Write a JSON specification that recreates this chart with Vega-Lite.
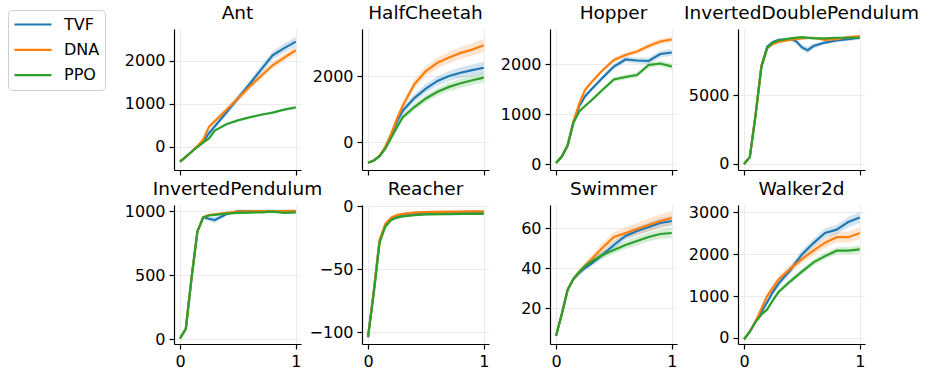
{
"$schema":"https://vega.github.io/schema/vega-lite/v6.json",
"padding":{"left":7,"top":3,"right":0,"bottom":0},
"config":{"view":{"stroke":null},"font":"DejaVu Sans",
"axis":{"gridColor":"#ebebeb","gridWidth":1,"domainColor":"#000","domainWidth":1.2,"tickColor":"#000","tickWidth":1.2,"tickSize":5,"labelColor":"#000","labelFontSize":16,"labelFont":"DejaVu Sans","labelPadding":4,"labelFlush":false,"labelOverlap":false,"grid":true},
"title":{"fontSize":18.5,"font":"DejaVu Sans","fontWeight":"normal","color":"#000","offset":7,"baseline":"alphabetic"}},
"columns":4,
"spacing":{"row":35,"column":61},
"bounds":"flush",
"datasets":{"d":[
{"e":"Ant","a":"TVF","x":0,"y":-340,"l":-351,"h":-329},
{"e":"Ant","a":"TVF","x":0.05,"y":-230,"l":-247,"h":-213},
{"e":"Ant","a":"TVF","x":0.1,"y":-110,"l":-138,"h":-82},
{"e":"Ant","a":"TVF","x":0.15,"y":10,"l":-29,"h":49},
{"e":"Ant","a":"TVF","x":0.2,"y":120,"l":70,"h":170},
{"e":"Ant","a":"TVF","x":0.25,"y":320,"l":259,"h":381},
{"e":"Ant","a":"TVF","x":0.3,"y":480,"l":414,"h":546},
{"e":"Ant","a":"TVF","x":0.4,"y":800,"l":723,"h":877},
{"e":"Ant","a":"TVF","x":0.5,"y":1130,"l":1047,"h":1213},
{"e":"Ant","a":"TVF","x":0.6,"y":1460,"l":1372,"h":1548},
{"e":"Ant","a":"TVF","x":0.7,"y":1800,"l":1706,"h":1894},
{"e":"Ant","a":"TVF","x":0.8,"y":2130,"l":2031,"h":2229},
{"e":"Ant","a":"TVF","x":0.9,"y":2300,"l":2195,"h":2405},
{"e":"Ant","a":"TVF","x":1,"y":2450,"l":2340,"h":2560},
{"e":"Ant","a":"DNA","x":0,"y":-340,"l":-349,"h":-331},
{"e":"Ant","a":"DNA","x":0.05,"y":-230,"l":-244,"h":-216},
{"e":"Ant","a":"DNA","x":0.1,"y":-110,"l":-133,"h":-87},
{"e":"Ant","a":"DNA","x":0.15,"y":20,"l":-12,"h":52},
{"e":"Ant","a":"DNA","x":0.2,"y":170,"l":129,"h":211},
{"e":"Ant","a":"DNA","x":0.25,"y":470,"l":420,"h":520},
{"e":"Ant","a":"DNA","x":0.3,"y":600,"l":546,"h":654},
{"e":"Ant","a":"DNA","x":0.4,"y":860,"l":797,"h":923},
{"e":"Ant","a":"DNA","x":0.5,"y":1130,"l":1062,"h":1198},
{"e":"Ant","a":"DNA","x":0.6,"y":1400,"l":1328,"h":1472},
{"e":"Ant","a":"DNA","x":0.7,"y":1650,"l":1573,"h":1727},
{"e":"Ant","a":"DNA","x":0.8,"y":1900,"l":1819,"h":1981},
{"e":"Ant","a":"DNA","x":0.9,"y":2080,"l":1994,"h":2166},
{"e":"Ant","a":"DNA","x":1,"y":2250,"l":2160,"h":2340},
{"e":"Ant","a":"PPO","x":0,"y":-340,"l":-343,"h":-337},
{"e":"Ant","a":"PPO","x":0.05,"y":-230,"l":-235,"h":-225},
{"e":"Ant","a":"PPO","x":0.1,"y":-110,"l":-118,"h":-102},
{"e":"Ant","a":"PPO","x":0.15,"y":0,"l":-11,"h":11},
{"e":"Ant","a":"PPO","x":0.2,"y":100,"l":86,"h":114},
{"e":"Ant","a":"PPO","x":0.25,"y":200,"l":183,"h":217},
{"e":"Ant","a":"PPO","x":0.3,"y":380,"l":362,"h":398},
{"e":"Ant","a":"PPO","x":0.4,"y":530,"l":509,"h":551},
{"e":"Ant","a":"PPO","x":0.5,"y":620,"l":597,"h":643},
{"e":"Ant","a":"PPO","x":0.6,"y":690,"l":666,"h":714},
{"e":"Ant","a":"PPO","x":0.7,"y":750,"l":724,"h":776},
{"e":"Ant","a":"PPO","x":0.8,"y":800,"l":773,"h":827},
{"e":"Ant","a":"PPO","x":0.9,"y":870,"l":841,"h":899},
{"e":"Ant","a":"PPO","x":1,"y":920,"l":890,"h":950},
{"e":"HalfCheetah","a":"TVF","x":0,"y":-630,"l":-648,"h":-612},
{"e":"HalfCheetah","a":"TVF","x":0.05,"y":-560,"l":-587,"h":-533},
{"e":"HalfCheetah","a":"TVF","x":0.1,"y":-420,"l":-465,"h":-375},
{"e":"HalfCheetah","a":"TVF","x":0.15,"y":-160,"l":-223,"h":-97},
{"e":"HalfCheetah","a":"TVF","x":0.2,"y":220,"l":139,"h":301},
{"e":"HalfCheetah","a":"TVF","x":0.25,"y":620,"l":521,"h":719},
{"e":"HalfCheetah","a":"TVF","x":0.3,"y":950,"l":842,"h":1058},
{"e":"HalfCheetah","a":"TVF","x":0.4,"y":1330,"l":1204,"h":1456},
{"e":"HalfCheetah","a":"TVF","x":0.5,"y":1620,"l":1485,"h":1755},
{"e":"HalfCheetah","a":"TVF","x":0.6,"y":1850,"l":1706,"h":1994},
{"e":"HalfCheetah","a":"TVF","x":0.7,"y":2000,"l":1847,"h":2153},
{"e":"HalfCheetah","a":"TVF","x":0.8,"y":2100,"l":1938,"h":2262},
{"e":"HalfCheetah","a":"TVF","x":0.9,"y":2180,"l":2009,"h":2351},
{"e":"HalfCheetah","a":"TVF","x":1,"y":2250,"l":2070,"h":2430},
{"e":"HalfCheetah","a":"DNA","x":0,"y":-630,"l":-650,"h":-610},
{"e":"HalfCheetah","a":"DNA","x":0.05,"y":-560,"l":-590,"h":-530},
{"e":"HalfCheetah","a":"DNA","x":0.1,"y":-420,"l":-470,"h":-370},
{"e":"HalfCheetah","a":"DNA","x":0.15,"y":-150,"l":-220,"h":-80},
{"e":"HalfCheetah","a":"DNA","x":0.2,"y":250,"l":160,"h":340},
{"e":"HalfCheetah","a":"DNA","x":0.25,"y":700,"l":590,"h":810},
{"e":"HalfCheetah","a":"DNA","x":0.3,"y":1100,"l":980,"h":1220},
{"e":"HalfCheetah","a":"DNA","x":0.4,"y":1750,"l":1610,"h":1890},
{"e":"HalfCheetah","a":"DNA","x":0.5,"y":2150,"l":2000,"h":2300},
{"e":"HalfCheetah","a":"DNA","x":0.6,"y":2400,"l":2240,"h":2560},
{"e":"HalfCheetah","a":"DNA","x":0.7,"y":2560,"l":2390,"h":2730},
{"e":"HalfCheetah","a":"DNA","x":0.8,"y":2700,"l":2520,"h":2880},
{"e":"HalfCheetah","a":"DNA","x":0.9,"y":2800,"l":2610,"h":2990},
{"e":"HalfCheetah","a":"DNA","x":1,"y":2930,"l":2730,"h":3130},
{"e":"HalfCheetah","a":"PPO","x":0,"y":-630,"l":-645,"h":-615},
{"e":"HalfCheetah","a":"PPO","x":0.05,"y":-560,"l":-583,"h":-537},
{"e":"HalfCheetah","a":"PPO","x":0.1,"y":-430,"l":-468,"h":-392},
{"e":"HalfCheetah","a":"PPO","x":0.15,"y":-200,"l":-253,"h":-147},
{"e":"HalfCheetah","a":"PPO","x":0.2,"y":130,"l":62,"h":198},
{"e":"HalfCheetah","a":"PPO","x":0.25,"y":450,"l":367,"h":533},
{"e":"HalfCheetah","a":"PPO","x":0.3,"y":750,"l":660,"h":840},
{"e":"HalfCheetah","a":"PPO","x":0.4,"y":1060,"l":955,"h":1165},
{"e":"HalfCheetah","a":"PPO","x":0.5,"y":1320,"l":1207,"h":1433},
{"e":"HalfCheetah","a":"PPO","x":0.6,"y":1520,"l":1400,"h":1640},
{"e":"HalfCheetah","a":"PPO","x":0.7,"y":1670,"l":1542,"h":1798},
{"e":"HalfCheetah","a":"PPO","x":0.8,"y":1780,"l":1645,"h":1915},
{"e":"HalfCheetah","a":"PPO","x":0.9,"y":1870,"l":1727,"h":2013},
{"e":"HalfCheetah","a":"PPO","x":1,"y":1950,"l":1800,"h":2100},
{"e":"Hopper","a":"TVF","x":0,"y":20,"l":13,"h":27},
{"e":"Hopper","a":"TVF","x":0.05,"y":150,"l":139,"h":161},
{"e":"Hopper","a":"TVF","x":0.1,"y":370,"l":352,"h":388},
{"e":"Hopper","a":"TVF","x":0.15,"y":830,"l":805,"h":855},
{"e":"Hopper","a":"TVF","x":0.2,"y":1150,"l":1118,"h":1182},
{"e":"Hopper","a":"TVF","x":0.25,"y":1350,"l":1311,"h":1389},
{"e":"Hopper","a":"TVF","x":0.3,"y":1480,"l":1438,"h":1522},
{"e":"Hopper","a":"TVF","x":0.4,"y":1720,"l":1671,"h":1769},
{"e":"Hopper","a":"TVF","x":0.5,"y":1950,"l":1897,"h":2003},
{"e":"Hopper","a":"TVF","x":0.6,"y":2090,"l":2034,"h":2146},
{"e":"Hopper","a":"TVF","x":0.7,"y":2070,"l":2010,"h":2130},
{"e":"Hopper","a":"TVF","x":0.8,"y":2060,"l":1997,"h":2123},
{"e":"Hopper","a":"TVF","x":0.9,"y":2200,"l":2133,"h":2267},
{"e":"Hopper","a":"TVF","x":1,"y":2230,"l":2160,"h":2300},
{"e":"Hopper","a":"DNA","x":0,"y":20,"l":14,"h":26},
{"e":"Hopper","a":"DNA","x":0.05,"y":150,"l":141,"h":159},
{"e":"Hopper","a":"DNA","x":0.1,"y":380,"l":365,"h":395},
{"e":"Hopper","a":"DNA","x":0.15,"y":850,"l":829,"h":871},
{"e":"Hopper","a":"DNA","x":0.2,"y":1200,"l":1173,"h":1227},
{"e":"Hopper","a":"DNA","x":0.25,"y":1480,"l":1447,"h":1513},
{"e":"Hopper","a":"DNA","x":0.3,"y":1620,"l":1584,"h":1656},
{"e":"Hopper","a":"DNA","x":0.4,"y":1870,"l":1828,"h":1912},
{"e":"Hopper","a":"DNA","x":0.5,"y":2080,"l":2035,"h":2125},
{"e":"Hopper","a":"DNA","x":0.6,"y":2180,"l":2132,"h":2228},
{"e":"Hopper","a":"DNA","x":0.7,"y":2250,"l":2199,"h":2301},
{"e":"Hopper","a":"DNA","x":0.8,"y":2360,"l":2306,"h":2414},
{"e":"Hopper","a":"DNA","x":0.9,"y":2450,"l":2393,"h":2507},
{"e":"Hopper","a":"DNA","x":1,"y":2490,"l":2430,"h":2550},
{"e":"Hopper","a":"PPO","x":0,"y":20,"l":14,"h":26},
{"e":"Hopper","a":"PPO","x":0.05,"y":150,"l":141,"h":159},
{"e":"Hopper","a":"PPO","x":0.1,"y":370,"l":355,"h":385},
{"e":"Hopper","a":"PPO","x":0.15,"y":820,"l":799,"h":841},
{"e":"Hopper","a":"PPO","x":0.2,"y":1050,"l":1023,"h":1077},
{"e":"Hopper","a":"PPO","x":0.25,"y":1160,"l":1127,"h":1193},
{"e":"Hopper","a":"PPO","x":0.3,"y":1260,"l":1224,"h":1296},
{"e":"Hopper","a":"PPO","x":0.4,"y":1480,"l":1438,"h":1522},
{"e":"Hopper","a":"PPO","x":0.5,"y":1690,"l":1645,"h":1735},
{"e":"Hopper","a":"PPO","x":0.6,"y":1740,"l":1692,"h":1788},
{"e":"Hopper","a":"PPO","x":0.7,"y":1780,"l":1729,"h":1831},
{"e":"Hopper","a":"PPO","x":0.8,"y":1980,"l":1926,"h":2034},
{"e":"Hopper","a":"PPO","x":0.9,"y":2010,"l":1953,"h":2067},
{"e":"Hopper","a":"PPO","x":1,"y":1950,"l":1890,"h":2010},
{"e":"InvertedDoublePendulum","a":"TVF","x":0,"y":0,"l":-15,"h":15},
{"e":"InvertedDoublePendulum","a":"TVF","x":0.05,"y":500,"l":477,"h":523},
{"e":"InvertedDoublePendulum","a":"TVF","x":0.1,"y":3600,"l":3562,"h":3638},
{"e":"InvertedDoublePendulum","a":"TVF","x":0.15,"y":7100,"l":7047,"h":7153},
{"e":"InvertedDoublePendulum","a":"TVF","x":0.2,"y":8500,"l":8432,"h":8568},
{"e":"InvertedDoublePendulum","a":"TVF","x":0.25,"y":8850,"l":8767,"h":8933},
{"e":"InvertedDoublePendulum","a":"TVF","x":0.3,"y":9000,"l":8910,"h":9090},
{"e":"InvertedDoublePendulum","a":"TVF","x":0.4,"y":9050,"l":8945,"h":9155},
{"e":"InvertedDoublePendulum","a":"TVF","x":0.45,"y":8900,"l":8750,"h":9050},
{"e":"InvertedDoublePendulum","a":"TVF","x":0.5,"y":8450,"l":8250,"h":8650},
{"e":"InvertedDoublePendulum","a":"TVF","x":0.55,"y":8250,"l":8000,"h":8500},
{"e":"InvertedDoublePendulum","a":"TVF","x":0.6,"y":8550,"l":8350,"h":8750},
{"e":"InvertedDoublePendulum","a":"TVF","x":0.7,"y":8800,"l":8672,"h":8928},
{"e":"InvertedDoublePendulum","a":"TVF","x":0.8,"y":8950,"l":8815,"h":9085},
{"e":"InvertedDoublePendulum","a":"TVF","x":0.9,"y":9050,"l":8907,"h":9193},
{"e":"InvertedDoublePendulum","a":"TVF","x":1,"y":9150,"l":9000,"h":9300},
{"e":"InvertedDoublePendulum","a":"DNA","x":0,"y":0,"l":-10,"h":10},
{"e":"InvertedDoublePendulum","a":"DNA","x":0.05,"y":500,"l":485,"h":515},
{"e":"InvertedDoublePendulum","a":"DNA","x":0.1,"y":3600,"l":3575,"h":3625},
{"e":"InvertedDoublePendulum","a":"DNA","x":0.15,"y":7100,"l":7065,"h":7135},
{"e":"InvertedDoublePendulum","a":"DNA","x":0.2,"y":8400,"l":8355,"h":8445},
{"e":"InvertedDoublePendulum","a":"DNA","x":0.25,"y":8700,"l":8645,"h":8755},
{"e":"InvertedDoublePendulum","a":"DNA","x":0.3,"y":8850,"l":8790,"h":8910},
{"e":"InvertedDoublePendulum","a":"DNA","x":0.4,"y":9000,"l":8930,"h":9070},
{"e":"InvertedDoublePendulum","a":"DNA","x":0.5,"y":9100,"l":9025,"h":9175},
{"e":"InvertedDoublePendulum","a":"DNA","x":0.6,"y":9150,"l":9070,"h":9230},
{"e":"InvertedDoublePendulum","a":"DNA","x":0.7,"y":9000,"l":8915,"h":9085},
{"e":"InvertedDoublePendulum","a":"DNA","x":0.8,"y":9050,"l":8960,"h":9140},
{"e":"InvertedDoublePendulum","a":"DNA","x":0.9,"y":9200,"l":9105,"h":9295},
{"e":"InvertedDoublePendulum","a":"DNA","x":1,"y":9250,"l":9150,"h":9350},
{"e":"InvertedDoublePendulum","a":"PPO","x":0,"y":0,"l":-6,"h":6},
{"e":"InvertedDoublePendulum","a":"PPO","x":0.05,"y":500,"l":491,"h":509},
{"e":"InvertedDoublePendulum","a":"PPO","x":0.1,"y":3500,"l":3485,"h":3515},
{"e":"InvertedDoublePendulum","a":"PPO","x":0.15,"y":7000,"l":6979,"h":7021},
{"e":"InvertedDoublePendulum","a":"PPO","x":0.2,"y":8400,"l":8373,"h":8427},
{"e":"InvertedDoublePendulum","a":"PPO","x":0.25,"y":8800,"l":8767,"h":8833},
{"e":"InvertedDoublePendulum","a":"PPO","x":0.3,"y":8950,"l":8914,"h":8986},
{"e":"InvertedDoublePendulum","a":"PPO","x":0.4,"y":9100,"l":9058,"h":9142},
{"e":"InvertedDoublePendulum","a":"PPO","x":0.5,"y":9200,"l":9155,"h":9245},
{"e":"InvertedDoublePendulum","a":"PPO","x":0.6,"y":9100,"l":9052,"h":9148},
{"e":"InvertedDoublePendulum","a":"PPO","x":0.7,"y":9100,"l":9049,"h":9151},
{"e":"InvertedDoublePendulum","a":"PPO","x":0.8,"y":9150,"l":9096,"h":9204},
{"e":"InvertedDoublePendulum","a":"PPO","x":0.9,"y":9150,"l":9093,"h":9207},
{"e":"InvertedDoublePendulum","a":"PPO","x":1,"y":9150,"l":9090,"h":9210},
{"e":"InvertedPendulum","a":"TVF","x":0,"y":5,"l":3,"h":7},
{"e":"InvertedPendulum","a":"TVF","x":0.05,"y":80,"l":78,"h":82},
{"e":"InvertedPendulum","a":"TVF","x":0.1,"y":480,"l":476,"h":484},
{"e":"InvertedPendulum","a":"TVF","x":0.15,"y":840,"l":835,"h":845},
{"e":"InvertedPendulum","a":"TVF","x":0.2,"y":950,"l":943,"h":957},
{"e":"InvertedPendulum","a":"TVF","x":0.25,"y":940,"l":920,"h":960},
{"e":"InvertedPendulum","a":"TVF","x":0.3,"y":930,"l":905,"h":955},
{"e":"InvertedPendulum","a":"TVF","x":0.4,"y":975,"l":965,"h":985},
{"e":"InvertedPendulum","a":"TVF","x":0.5,"y":1000,"l":989,"h":1011},
{"e":"InvertedPendulum","a":"TVF","x":0.6,"y":1000,"l":988,"h":1012},
{"e":"InvertedPendulum","a":"TVF","x":0.7,"y":1000,"l":987,"h":1013},
{"e":"InvertedPendulum","a":"TVF","x":0.8,"y":1000,"l":986,"h":1014},
{"e":"InvertedPendulum","a":"TVF","x":0.9,"y":1000,"l":986,"h":1014},
{"e":"InvertedPendulum","a":"TVF","x":1,"y":1000,"l":985,"h":1015},
{"e":"InvertedPendulum","a":"DNA","x":0,"y":5,"l":4,"h":6},
{"e":"InvertedPendulum","a":"DNA","x":0.05,"y":80,"l":79,"h":81},
{"e":"InvertedPendulum","a":"DNA","x":0.1,"y":480,"l":478,"h":482},
{"e":"InvertedPendulum","a":"DNA","x":0.15,"y":840,"l":837,"h":843},
{"e":"InvertedPendulum","a":"DNA","x":0.2,"y":950,"l":946,"h":954},
{"e":"InvertedPendulum","a":"DNA","x":0.25,"y":970,"l":966,"h":974},
{"e":"InvertedPendulum","a":"DNA","x":0.3,"y":975,"l":970,"h":980},
{"e":"InvertedPendulum","a":"DNA","x":0.4,"y":985,"l":979,"h":991},
{"e":"InvertedPendulum","a":"DNA","x":0.5,"y":995,"l":989,"h":1001},
{"e":"InvertedPendulum","a":"DNA","x":0.6,"y":998,"l":992,"h":1004},
{"e":"InvertedPendulum","a":"DNA","x":0.7,"y":1000,"l":993,"h":1007},
{"e":"InvertedPendulum","a":"DNA","x":0.8,"y":1000,"l":993,"h":1007},
{"e":"InvertedPendulum","a":"DNA","x":0.9,"y":1000,"l":992,"h":1008},
{"e":"InvertedPendulum","a":"DNA","x":1,"y":1000,"l":992,"h":1008},
{"e":"InvertedPendulum","a":"PPO","x":0,"y":5,"l":4,"h":6},
{"e":"InvertedPendulum","a":"PPO","x":0.05,"y":80,"l":79,"h":81},
{"e":"InvertedPendulum","a":"PPO","x":0.1,"y":480,"l":478,"h":482},
{"e":"InvertedPendulum","a":"PPO","x":0.15,"y":840,"l":837,"h":843},
{"e":"InvertedPendulum","a":"PPO","x":0.2,"y":950,"l":946,"h":954},
{"e":"InvertedPendulum","a":"PPO","x":0.25,"y":965,"l":961,"h":969},
{"e":"InvertedPendulum","a":"PPO","x":0.3,"y":970,"l":965,"h":975},
{"e":"InvertedPendulum","a":"PPO","x":0.4,"y":980,"l":974,"h":986},
{"e":"InvertedPendulum","a":"PPO","x":0.5,"y":985,"l":979,"h":991},
{"e":"InvertedPendulum","a":"PPO","x":0.6,"y":988,"l":982,"h":994},
{"e":"InvertedPendulum","a":"PPO","x":0.7,"y":990,"l":983,"h":997},
{"e":"InvertedPendulum","a":"PPO","x":0.8,"y":995,"l":988,"h":1002},
{"e":"InvertedPendulum","a":"PPO","x":0.9,"y":985,"l":977,"h":993},
{"e":"InvertedPendulum","a":"PPO","x":1,"y":990,"l":982,"h":998},
{"e":"Reacher","a":"TVF","x":0,"y":-104,"l":-105,"h":-103},
{"e":"Reacher","a":"TVF","x":0.05,"y":-67,"l":-68,"h":-66},
{"e":"Reacher","a":"TVF","x":0.1,"y":-27,"l":-28,"h":-26},
{"e":"Reacher","a":"TVF","x":0.15,"y":-15,"l":-16,"h":-14},
{"e":"Reacher","a":"TVF","x":0.2,"y":-10,"l":-11,"h":-9},
{"e":"Reacher","a":"TVF","x":0.25,"y":-7.5,"l":-8.5,"h":-6.5},
{"e":"Reacher","a":"TVF","x":0.3,"y":-6.5,"l":-7.5,"h":-5.5},
{"e":"Reacher","a":"TVF","x":0.4,"y":-5.5,"l":-6.5,"h":-4.5},
{"e":"Reacher","a":"TVF","x":0.5,"y":-5,"l":-6,"h":-4},
{"e":"Reacher","a":"TVF","x":0.6,"y":-4.8,"l":-5.8,"h":-3.8},
{"e":"Reacher","a":"TVF","x":0.7,"y":-4.7,"l":-5.7,"h":-3.7},
{"e":"Reacher","a":"TVF","x":0.8,"y":-4.6,"l":-5.6,"h":-3.6},
{"e":"Reacher","a":"TVF","x":0.9,"y":-4.5,"l":-5.5,"h":-3.5},
{"e":"Reacher","a":"TVF","x":1,"y":-4.5,"l":-5.5,"h":-3.5},
{"e":"Reacher","a":"DNA","x":0,"y":-104,"l":-105,"h":-103},
{"e":"Reacher","a":"DNA","x":0.05,"y":-67,"l":-68,"h":-66},
{"e":"Reacher","a":"DNA","x":0.1,"y":-27,"l":-28,"h":-26},
{"e":"Reacher","a":"DNA","x":0.15,"y":-14,"l":-15,"h":-13},
{"e":"Reacher","a":"DNA","x":0.2,"y":-9,"l":-10,"h":-8},
{"e":"Reacher","a":"DNA","x":0.25,"y":-7,"l":-8,"h":-6},
{"e":"Reacher","a":"DNA","x":0.3,"y":-6,"l":-7,"h":-5},
{"e":"Reacher","a":"DNA","x":0.4,"y":-5,"l":-6,"h":-4},
{"e":"Reacher","a":"DNA","x":0.5,"y":-4.6,"l":-5.6,"h":-3.6},
{"e":"Reacher","a":"DNA","x":0.6,"y":-4.4,"l":-5.4,"h":-3.4},
{"e":"Reacher","a":"DNA","x":0.7,"y":-4.3,"l":-5.3,"h":-3.3},
{"e":"Reacher","a":"DNA","x":0.8,"y":-4.2,"l":-5.2,"h":-3.2},
{"e":"Reacher","a":"DNA","x":0.9,"y":-4.1,"l":-5.1,"h":-3.1},
{"e":"Reacher","a":"DNA","x":1,"y":-4,"l":-5,"h":-3},
{"e":"Reacher","a":"PPO","x":0,"y":-104,"l":-105,"h":-103},
{"e":"Reacher","a":"PPO","x":0.05,"y":-69,"l":-70,"h":-68},
{"e":"Reacher","a":"PPO","x":0.1,"y":-29,"l":-30,"h":-28},
{"e":"Reacher","a":"PPO","x":0.15,"y":-16,"l":-17,"h":-15},
{"e":"Reacher","a":"PPO","x":0.2,"y":-11,"l":-12,"h":-10},
{"e":"Reacher","a":"PPO","x":0.25,"y":-9,"l":-10,"h":-8},
{"e":"Reacher","a":"PPO","x":0.3,"y":-8,"l":-9,"h":-7},
{"e":"Reacher","a":"PPO","x":0.4,"y":-7,"l":-8,"h":-6},
{"e":"Reacher","a":"PPO","x":0.5,"y":-6.5,"l":-7.5,"h":-5.5},
{"e":"Reacher","a":"PPO","x":0.6,"y":-6.3,"l":-7.3,"h":-5.3},
{"e":"Reacher","a":"PPO","x":0.7,"y":-6.2,"l":-7.2,"h":-5.2},
{"e":"Reacher","a":"PPO","x":0.8,"y":-6.1,"l":-7.1,"h":-5.1},
{"e":"Reacher","a":"PPO","x":0.9,"y":-6,"l":-7,"h":-5},
{"e":"Reacher","a":"PPO","x":1,"y":-6,"l":-7,"h":-5},
{"e":"Swimmer","a":"TVF","x":0,"y":6,"l":5.7,"h":6.3},
{"e":"Swimmer","a":"TVF","x":0.05,"y":17,"l":16.6,"h":17.4},
{"e":"Swimmer","a":"TVF","x":0.1,"y":29,"l":28.4,"h":29.6},
{"e":"Swimmer","a":"TVF","x":0.15,"y":34.5,"l":33.6,"h":35.4},
{"e":"Swimmer","a":"TVF","x":0.2,"y":37.5,"l":36.4,"h":38.6},
{"e":"Swimmer","a":"TVF","x":0.25,"y":40,"l":38.6,"h":41.4},
{"e":"Swimmer","a":"TVF","x":0.3,"y":42,"l":40.5,"h":43.5},
{"e":"Swimmer","a":"TVF","x":0.4,"y":46.5,"l":44.7,"h":48.3},
{"e":"Swimmer","a":"TVF","x":0.5,"y":51.5,"l":49.6,"h":53.4},
{"e":"Swimmer","a":"TVF","x":0.6,"y":56,"l":54,"h":58},
{"e":"Swimmer","a":"TVF","x":0.7,"y":58.5,"l":56.4,"h":60.6},
{"e":"Swimmer","a":"TVF","x":0.8,"y":60.5,"l":58.2,"h":62.8},
{"e":"Swimmer","a":"TVF","x":0.9,"y":62.5,"l":60.1,"h":64.9},
{"e":"Swimmer","a":"TVF","x":1,"y":63.5,"l":61,"h":66},
{"e":"Swimmer","a":"DNA","x":0,"y":6,"l":5.6,"h":6.4},
{"e":"Swimmer","a":"DNA","x":0.05,"y":17,"l":16.5,"h":17.5},
{"e":"Swimmer","a":"DNA","x":0.1,"y":29,"l":28.1,"h":29.9},
{"e":"Swimmer","a":"DNA","x":0.15,"y":34.5,"l":33.3,"h":35.7},
{"e":"Swimmer","a":"DNA","x":0.2,"y":38,"l":36.4,"h":39.6},
{"e":"Swimmer","a":"DNA","x":0.25,"y":41,"l":39.1,"h":42.9},
{"e":"Swimmer","a":"DNA","x":0.3,"y":44,"l":41.9,"h":46.1},
{"e":"Swimmer","a":"DNA","x":0.4,"y":50,"l":47.5,"h":52.5},
{"e":"Swimmer","a":"DNA","x":0.5,"y":55.5,"l":52.9,"h":58.1},
{"e":"Swimmer","a":"DNA","x":0.6,"y":57.5,"l":54.7,"h":60.3},
{"e":"Swimmer","a":"DNA","x":0.7,"y":59.5,"l":56.5,"h":62.5},
{"e":"Swimmer","a":"DNA","x":0.8,"y":61.5,"l":58.3,"h":64.7},
{"e":"Swimmer","a":"DNA","x":0.9,"y":63.5,"l":60.2,"h":66.8},
{"e":"Swimmer","a":"DNA","x":1,"y":65,"l":61.5,"h":68.5},
{"e":"Swimmer","a":"PPO","x":0,"y":6,"l":5.7,"h":6.3},
{"e":"Swimmer","a":"PPO","x":0.05,"y":17,"l":16.6,"h":17.4},
{"e":"Swimmer","a":"PPO","x":0.1,"y":29,"l":28.4,"h":29.6},
{"e":"Swimmer","a":"PPO","x":0.15,"y":34.5,"l":33.6,"h":35.4},
{"e":"Swimmer","a":"PPO","x":0.2,"y":38,"l":36.9,"h":39.1},
{"e":"Swimmer","a":"PPO","x":0.25,"y":41,"l":39.6,"h":42.4},
{"e":"Swimmer","a":"PPO","x":0.3,"y":43,"l":41.5,"h":44.5},
{"e":"Swimmer","a":"PPO","x":0.4,"y":46.5,"l":44.7,"h":48.3},
{"e":"Swimmer","a":"PPO","x":0.5,"y":49,"l":47.1,"h":50.9},
{"e":"Swimmer","a":"PPO","x":0.6,"y":51.5,"l":49.5,"h":53.5},
{"e":"Swimmer","a":"PPO","x":0.7,"y":53.5,"l":51.4,"h":55.6},
{"e":"Swimmer","a":"PPO","x":0.8,"y":55.5,"l":53.2,"h":57.8},
{"e":"Swimmer","a":"PPO","x":0.9,"y":57,"l":54.6,"h":59.4},
{"e":"Swimmer","a":"PPO","x":1,"y":57.5,"l":55,"h":60},
{"e":"Walker2d","a":"TVF","x":0,"y":-30,"l":-43,"h":-17},
{"e":"Walker2d","a":"TVF","x":0.05,"y":150,"l":130,"h":170},
{"e":"Walker2d","a":"TVF","x":0.1,"y":400,"l":367,"h":433},
{"e":"Walker2d","a":"TVF","x":0.15,"y":620,"l":574,"h":666},
{"e":"Walker2d","a":"TVF","x":0.2,"y":850,"l":791,"h":909},
{"e":"Walker2d","a":"TVF","x":0.25,"y":1100,"l":1028,"h":1172},
{"e":"Walker2d","a":"TVF","x":0.3,"y":1300,"l":1222,"h":1378},
{"e":"Walker2d","a":"TVF","x":0.4,"y":1620,"l":1529,"h":1711},
{"e":"Walker2d","a":"TVF","x":0.5,"y":1990,"l":1892,"h":2088},
{"e":"Walker2d","a":"TVF","x":0.6,"y":2260,"l":2156,"h":2364},
{"e":"Walker2d","a":"TVF","x":0.7,"y":2500,"l":2389,"h":2611},
{"e":"Walker2d","a":"TVF","x":0.8,"y":2580,"l":2463,"h":2697},
{"e":"Walker2d","a":"TVF","x":0.9,"y":2760,"l":2636,"h":2884},
{"e":"Walker2d","a":"TVF","x":1,"y":2870,"l":2740,"h":3000},
{"e":"Walker2d","a":"DNA","x":0,"y":-30,"l":-44,"h":-16},
{"e":"Walker2d","a":"DNA","x":0.05,"y":150,"l":129,"h":171},
{"e":"Walker2d","a":"DNA","x":0.1,"y":400,"l":365,"h":435},
{"e":"Walker2d","a":"DNA","x":0.15,"y":700,"l":651,"h":749},
{"e":"Walker2d","a":"DNA","x":0.2,"y":1000,"l":937,"h":1063},
{"e":"Walker2d","a":"DNA","x":0.25,"y":1200,"l":1123,"h":1277},
{"e":"Walker2d","a":"DNA","x":0.3,"y":1400,"l":1316,"h":1484},
{"e":"Walker2d","a":"DNA","x":0.4,"y":1650,"l":1552,"h":1748},
{"e":"Walker2d","a":"DNA","x":0.5,"y":1880,"l":1775,"h":1985},
{"e":"Walker2d","a":"DNA","x":0.6,"y":2080,"l":1968,"h":2192},
{"e":"Walker2d","a":"DNA","x":0.7,"y":2270,"l":2151,"h":2389},
{"e":"Walker2d","a":"DNA","x":0.8,"y":2400,"l":2274,"h":2526},
{"e":"Walker2d","a":"DNA","x":0.9,"y":2400,"l":2267,"h":2533},
{"e":"Walker2d","a":"DNA","x":1,"y":2500,"l":2360,"h":2640},
{"e":"Walker2d","a":"PPO","x":0,"y":-30,"l":-39,"h":-21},
{"e":"Walker2d","a":"PPO","x":0.05,"y":150,"l":136,"h":164},
{"e":"Walker2d","a":"PPO","x":0.1,"y":380,"l":357,"h":403},
{"e":"Walker2d","a":"PPO","x":0.15,"y":560,"l":528,"h":592},
{"e":"Walker2d","a":"PPO","x":0.2,"y":680,"l":639,"h":721},
{"e":"Walker2d","a":"PPO","x":0.25,"y":900,"l":850,"h":950},
{"e":"Walker2d","a":"PPO","x":0.3,"y":1100,"l":1046,"h":1154},
{"e":"Walker2d","a":"PPO","x":0.4,"y":1350,"l":1287,"h":1413},
{"e":"Walker2d","a":"PPO","x":0.5,"y":1580,"l":1512,"h":1648},
{"e":"Walker2d","a":"PPO","x":0.6,"y":1800,"l":1728,"h":1872},
{"e":"Walker2d","a":"PPO","x":0.7,"y":1950,"l":1873,"h":2027},
{"e":"Walker2d","a":"PPO","x":0.8,"y":2080,"l":1999,"h":2161},
{"e":"Walker2d","a":"PPO","x":0.9,"y":2080,"l":1994,"h":2166},
{"e":"Walker2d","a":"PPO","x":1,"y":2110,"l":2020,"h":2200}
]},
"concat":[
{"title":"Ant","width":127,"height":141,"data":{"name":"d"},"transform":[{"filter":"datum.e==='Ant'"}],
"encoding":{"x":{"field":"x","type":"quantitative","title":null,"scale":{"domain":[-0.052,1.045],"nice":false,"zero":false},"axis":{"values":[0,1],"labels":false}},
"color":{"field":"a","type":"nominal","scale":{"domain":["TVF","DNA","PPO"],"range":["#1f77b4","#ff7f0e","#2ca02c"]},
"legend":{"title":null,"orient":"none","legendX":-166,"legendY":-19,"symbolType":"stroke","symbolStrokeWidth":2.2,"symbolSize":1369,"symbolOpacity":1,"labelFontSize":16,"labelFont":"DejaVu Sans","labelColor":"#000","strokeColor":"#d0d0d0","fillColor":"#ffffff","padding":5,"cornerRadius":4,"labelOffset":11,"clipHeight":19,"rowPadding":6.3,
"encode":{"symbols":{"update":{"opacity":{"value":1},"strokeOpacity":{"value":1},"strokeWidth":{"value":2.2}}}}}}},
"layer":[
{"mark":{"type":"area","opacity":0.2},"encoding":{"y":{"field":"l","type":"quantitative","title":null,"scale":{"domain":[-535,2744],"nice":false,"zero":false},"axis":{"values":[0,1000,2000],"format":"d"}},"y2":{"field":"h"}}},
{"mark":{"type":"line","strokeWidth":2.2},"encoding":{"y":{"field":"y","type":"quantitative","title":null,"scale":{"domain":[-535,2744],"nice":false,"zero":false},"axis":{"values":[0,1000,2000],"format":"d"}}}}]},
{"title":"HalfCheetah","width":127,"height":141,"data":{"name":"d"},"transform":[{"filter":"datum.e==='HalfCheetah'"}],
"encoding":{"x":{"field":"x","type":"quantitative","title":null,"scale":{"domain":[-0.052,1.045],"nice":false,"zero":false},"axis":{"values":[0,1],"labels":false}},
"color":{"field":"a","type":"nominal","scale":{"domain":["TVF","DNA","PPO"],"range":["#1f77b4","#ff7f0e","#2ca02c"]}}},
"layer":[
{"mark":{"type":"area","opacity":0.2},"encoding":{"y":{"field":"l","type":"quantitative","title":null,"scale":{"domain":[-848,3424],"nice":false,"zero":false},"axis":{"values":[0,2000],"format":"d"}},"y2":{"field":"h"}}},
{"mark":{"type":"line","strokeWidth":2.2},"encoding":{"y":{"field":"y","type":"quantitative","title":null,"scale":{"domain":[-848,3424],"nice":false,"zero":false},"axis":{"values":[0,2000],"format":"d"}}}}]},
{"title":"Hopper","width":127,"height":141,"data":{"name":"d"},"transform":[{"filter":"datum.e==='Hopper'"}],
"encoding":{"x":{"field":"x","type":"quantitative","title":null,"scale":{"domain":[-0.052,1.045],"nice":false,"zero":false},"axis":{"values":[0,1],"labels":false}},
"color":{"field":"a","type":"nominal","scale":{"domain":["TVF","DNA","PPO"],"range":["#1f77b4","#ff7f0e","#2ca02c"]}}},
"layer":[
{"mark":{"type":"area","opacity":0.2},"encoding":{"y":{"field":"l","type":"quantitative","title":null,"scale":{"domain":[-120,2700],"nice":false,"zero":false},"axis":{"values":[0,1000,2000],"format":"d"}},"y2":{"field":"h"}}},
{"mark":{"type":"line","strokeWidth":2.2},"encoding":{"y":{"field":"y","type":"quantitative","title":null,"scale":{"domain":[-120,2700],"nice":false,"zero":false},"axis":{"values":[0,1000,2000],"format":"d"}}}}]},
{"title":"InvertedDoublePendulum","width":127,"height":141,"data":{"name":"d"},"transform":[{"filter":"datum.e==='InvertedDoublePendulum'"}],
"encoding":{"x":{"field":"x","type":"quantitative","title":null,"scale":{"domain":[-0.052,1.045],"nice":false,"zero":false},"axis":{"values":[0,1],"labels":false}},
"color":{"field":"a","type":"nominal","scale":{"domain":["TVF","DNA","PPO"],"range":["#1f77b4","#ff7f0e","#2ca02c"]}}},
"layer":[
{"mark":{"type":"area","opacity":0.2},"encoding":{"y":{"field":"l","type":"quantitative","title":null,"scale":{"domain":[-435,9783],"nice":false,"zero":false},"axis":{"values":[0,5000],"format":"d"}},"y2":{"field":"h"}}},
{"mark":{"type":"line","strokeWidth":2.2},"encoding":{"y":{"field":"y","type":"quantitative","title":null,"scale":{"domain":[-435,9783],"nice":false,"zero":false},"axis":{"values":[0,5000],"format":"d"}}}}]},
{"title":{"text":"InvertedPendulum","offset":5},"width":127,"height":139,"data":{"name":"d"},"transform":[{"filter":"datum.e==='InvertedPendulum'"}],
"encoding":{"x":{"field":"x","type":"quantitative","title":null,"scale":{"domain":[-0.052,1.045],"nice":false,"zero":false},"axis":{"values":[0,1],"format":"d"}},
"color":{"field":"a","type":"nominal","scale":{"domain":["TVF","DNA","PPO"],"range":["#1f77b4","#ff7f0e","#2ca02c"]}}},
"layer":[
{"mark":{"type":"area","opacity":0.2},"encoding":{"y":{"field":"l","type":"quantitative","title":null,"scale":{"domain":[-38,1047],"nice":false,"zero":false},"axis":{"values":[0,500,1000],"format":"d"}},"y2":{"field":"h"}}},
{"mark":{"type":"line","strokeWidth":2.2},"encoding":{"y":{"field":"y","type":"quantitative","title":null,"scale":{"domain":[-38,1047],"nice":false,"zero":false},"axis":{"values":[0,500,1000],"format":"d"}}}}]},
{"title":{"text":"Reacher","offset":0},"width":127,"height":139,"data":{"name":"d"},"transform":[{"filter":"datum.e==='Reacher'"}],
"encoding":{"x":{"field":"x","type":"quantitative","title":null,"scale":{"domain":[-0.052,1.045],"nice":false,"zero":false},"axis":{"values":[0,1],"format":"d"}},
"color":{"field":"a","type":"nominal","scale":{"domain":["TVF","DNA","PPO"],"range":["#1f77b4","#ff7f0e","#2ca02c"]}}},
"layer":[
{"mark":{"type":"area","opacity":0.2},"encoding":{"y":{"field":"l","type":"quantitative","title":null,"scale":{"domain":[-109.5,1],"nice":false,"zero":false},"axis":{"values":[-100,-50,0],"format":"d"}},"y2":{"field":"h"}}},
{"mark":{"type":"line","strokeWidth":2.2},"encoding":{"y":{"field":"y","type":"quantitative","title":null,"scale":{"domain":[-109.5,1],"nice":false,"zero":false},"axis":{"values":[-100,-50,0],"format":"d"}}}}]},
{"title":"Swimmer","width":127,"height":139,"data":{"name":"d"},"transform":[{"filter":"datum.e==='Swimmer'"}],
"encoding":{"x":{"field":"x","type":"quantitative","title":null,"scale":{"domain":[-0.052,1.045],"nice":false,"zero":false},"axis":{"values":[0,1],"format":"d"}},
"color":{"field":"a","type":"nominal","scale":{"domain":["TVF","DNA","PPO"],"range":["#1f77b4","#ff7f0e","#2ca02c"]}}},
"layer":[
{"mark":{"type":"area","opacity":0.2},"encoding":{"y":{"field":"l","type":"quantitative","title":null,"scale":{"domain":[2,71.5],"nice":false,"zero":false},"axis":{"values":[20,40,60],"format":"d"}},"y2":{"field":"h"}}},
{"mark":{"type":"line","strokeWidth":2.2},"encoding":{"y":{"field":"y","type":"quantitative","title":null,"scale":{"domain":[2,71.5],"nice":false,"zero":false},"axis":{"values":[20,40,60],"format":"d"}}}}]},
{"title":{"text":"Walker2d","offset":6},"width":127,"height":139,"data":{"name":"d"},"transform":[{"filter":"datum.e==='Walker2d'"}],
"encoding":{"x":{"field":"x","type":"quantitative","title":null,"scale":{"domain":[-0.052,1.045],"nice":false,"zero":false},"axis":{"values":[0,1],"format":"d"}},
"color":{"field":"a","type":"nominal","scale":{"domain":["TVF","DNA","PPO"],"range":["#1f77b4","#ff7f0e","#2ca02c"]}}},
"layer":[
{"mark":{"type":"area","opacity":0.2},"encoding":{"y":{"field":"l","type":"quantitative","title":null,"scale":{"domain":[-143,3167],"nice":false,"zero":false},"axis":{"values":[0,1000,2000,3000],"format":"d"}},"y2":{"field":"h"}}},
{"mark":{"type":"line","strokeWidth":2.2},"encoding":{"y":{"field":"y","type":"quantitative","title":null,"scale":{"domain":[-143,3167],"nice":false,"zero":false},"axis":{"values":[0,1000,2000,3000],"format":"d"}}}}]}
]
}
